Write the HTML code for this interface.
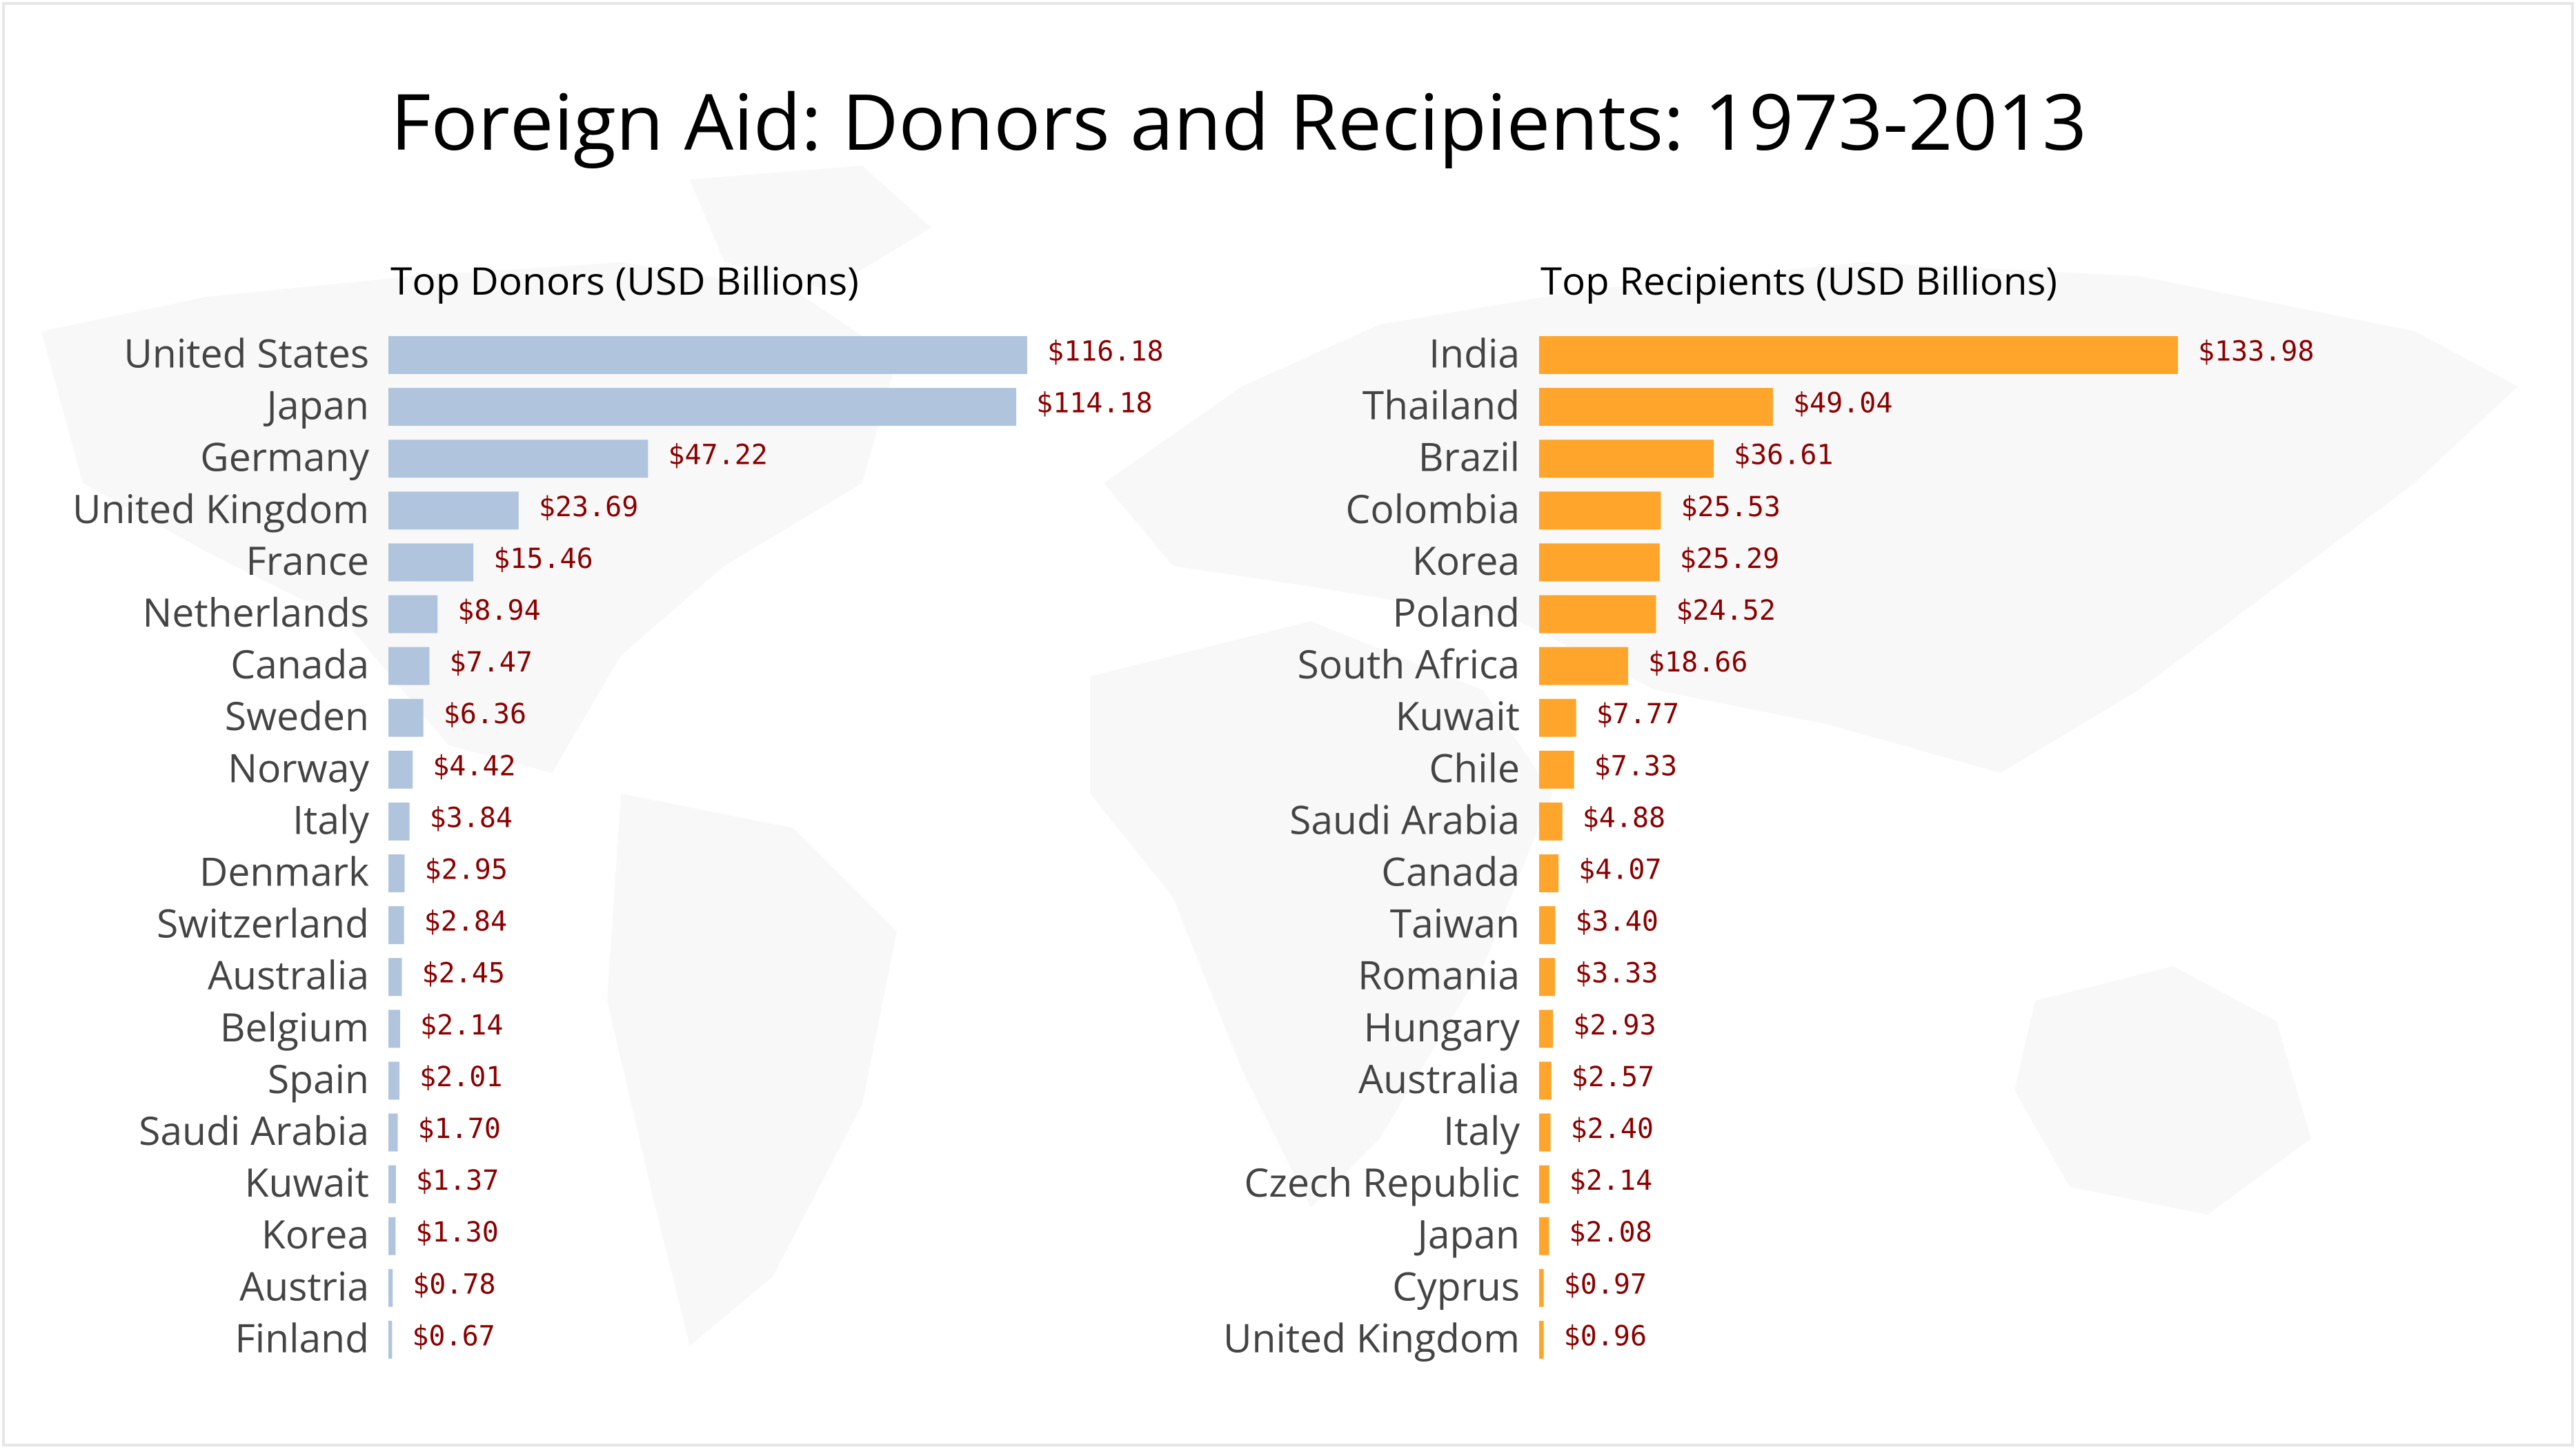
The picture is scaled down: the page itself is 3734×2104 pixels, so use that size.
<!DOCTYPE html>
<html><head><meta charset="utf-8">
<style>
html,body{margin:0;padding:0;background:#fff;}
svg{display:block;}
</style></head>
<body>
<svg id="chart" width="3734" height="2104" viewBox="0 0 3734 2104" xmlns="http://www.w3.org/2000/svg">
  <rect x="5" y="5" width="3724" height="2089" fill="#fff" stroke="#e6e6e6" stroke-width="4"/>
  <g fill="#f8f8f8">
    <path d="M60 480 L300 430 L600 400 L900 380 L1150 420 L1300 520 L1250 700 L1050 820 L900 950 L800 1120 L650 1080 L500 900 L300 800 L120 700 Z"/>
    <path d="M1000 260 L1250 240 L1350 330 L1200 420 L1050 380 Z"/>
    <path d="M900 1150 L1150 1200 L1300 1350 L1250 1600 L1120 1850 L1000 1950 L950 1750 L880 1450 Z"/>
    <path d="M1600 700 L1800 560 L2000 470 L2300 420 L2700 380 L3100 400 L3500 480 L3650 560 L3500 700 L3300 850 L3100 1000 L2900 1120 L2650 1050 L2400 1000 L2200 900 L1900 850 L1700 820 Z"/>
    <path d="M1580 980 L1900 900 L2150 1000 L2250 1150 L2150 1400 L2000 1650 L1900 1750 L1800 1550 L1700 1300 L1580 1150 Z"/>
    <path d="M2950 1450 L3150 1400 L3300 1480 L3350 1650 L3200 1760 L3000 1720 L2920 1580 Z"/>
  </g>
  <text x="566" y="217" font-family="'Open Sans','Liberation Sans',sans-serif" font-size="112" fill="#000" textLength="2459" lengthAdjust="spacingAndGlyphs">Foreign Aid: Donors and Recipients: 1973-2013</text>
  <text x="566" y="427" font-family="'Open Sans','Liberation Sans',sans-serif" font-size="55" fill="#000" textLength="679" lengthAdjust="spacingAndGlyphs">Top Donors (USD Billions)</text>
  <text x="2233" y="427" font-family="'Open Sans','Liberation Sans',sans-serif" font-size="55" fill="#000" textLength="749" lengthAdjust="spacingAndGlyphs">Top Recipients (USD Billions)</text>
  <g id="donors"></g>
  <g id="recipients"></g>
</svg>
<script>
const donorNames = ["United States","Japan","Germany","United Kingdom","France","Netherlands","Canada","Sweden","Norway","Italy","Denmark","Switzerland","Australia","Belgium","Spain","Saudi Arabia","Kuwait","Korea","Austria","Finland"];
const donorValues = [116.18,114.18,47.22,23.69,15.46,8.94,7.47,6.36,4.42,3.84,2.95,2.84,2.45,2.14,2.01,1.70,1.37,1.30,0.78,0.67];
const recipientNames = ["India","Thailand","Brazil","Colombia","Korea","Poland","South Africa","Kuwait","Chile","Saudi Arabia","Canada","Taiwan","Romania","Hungary","Australia","Italy","Czech Republic","Japan","Cyprus","United Kingdom"];
const recipientValues = [133.98,49.04,36.61,25.53,25.29,24.52,18.66,7.77,7.33,4.88,4.07,3.40,3.33,2.93,2.57,2.40,2.14,2.08,0.97,0.96];

const NS = "http://www.w3.org/2000/svg";
function drawPanel(gid, names, values, x0, labelX, color, prefix){
  const g = document.getElementById(gid);
  const maxV = Math.max(...values);
  const xs = v => (v / maxV) * 926;
  const top = 487, pitch = 75.1, bh = 55;
  names.forEach((n, i) => {
    const y = top + i * pitch;
    const w = Math.max(xs(values[i]), 5);
    const r = document.createElementNS(NS, "rect");
    r.setAttribute("x", x0); r.setAttribute("y", y);
    r.setAttribute("width", w); r.setAttribute("height", bh);
    r.setAttribute("fill", color);
    
    
    g.appendChild(r);
    const t = document.createElementNS(NS, "text");
    t.setAttribute("x", labelX); t.setAttribute("y", y + bh/2 + 18);
    t.setAttribute("text-anchor", "end");
    t.setAttribute("font-family", "'Open Sans','Liberation Sans',sans-serif");
    t.setAttribute("font-size", "57"); t.setAttribute("fill", "#444");
    t.textContent = n;
    
    
    g.appendChild(t);
    const v = document.createElementNS(NS, "text");
    v.setAttribute("x", x0 + w + 29); v.setAttribute("y", y + bh/2 + 8);
    v.setAttribute("font-family", "'DejaVu Sans Mono','Liberation Mono',monospace");
    v.setAttribute("font-size", "40"); v.setAttribute("fill", "#8b0000");
    v.textContent = "$" + values[i].toFixed(2);
    
    
    g.appendChild(v);
  });
}
drawPanel("donors", donorNames, donorValues, 563, 535, "#b0c4de", "donor");
drawPanel("recipients", recipientNames, recipientValues, 2231, 2203, "#ffa52c", "recipient");
</script>
</body></html>
